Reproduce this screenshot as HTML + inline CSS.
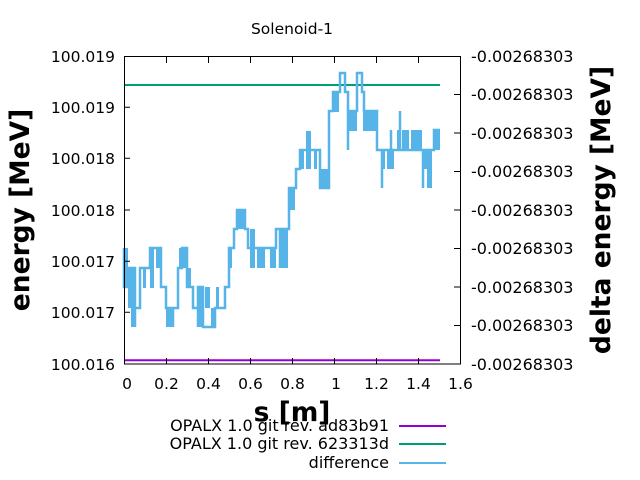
<!DOCTYPE html>
<html><head><meta charset="utf-8"><style>
html,body{margin:0;padding:0;background:#fff;}
svg{display:block;font-family:"DejaVu Sans","Liberation Sans",sans-serif;}
</style></head><body>
<svg width="640" height="480" viewBox="0 0 640 480">
<text x="292" y="34" font-size="15.5" text-anchor="middle">Solenoid-1</text>
<line x1="124" y1="360.3" x2="440" y2="360.3" stroke="#9400d3" stroke-width="2"/>
<line x1="124" y1="85" x2="440" y2="85" stroke="#009e73" stroke-width="2"/>
<g fill="#56b4e9">
<rect x="124" y="248" width="4" height="39"/>
<rect x="128" y="268" width="7" height="40"/>
<rect x="131" y="287" width="5" height="40"/>
<rect x="143" y="268" width="3" height="20"/>
<rect x="150" y="248" width="4" height="40"/>
<rect x="156" y="248" width="5" height="20"/>
<rect x="166" y="308" width="7" height="19"/>
<rect x="179" y="248" width="7" height="20"/>
<rect x="188" y="268" width="3" height="20"/>
<rect x="197" y="287" width="5" height="40"/>
<rect x="205" y="287" width="5" height="21"/>
<rect x="211" y="308" width="4" height="19"/>
<rect x="216" y="287" width="3" height="21"/>
<rect x="228" y="248" width="4" height="20"/>
<rect x="238" y="210" width="7" height="19"/>
<rect x="250" y="229" width="5" height="39"/>
<rect x="257" y="248" width="8" height="20"/>
<rect x="270" y="248" width="6" height="20"/>
<rect x="281" y="229" width="7" height="39"/>
<rect x="290" y="188" width="5" height="22"/>
<rect x="300" y="150" width="4" height="19"/>
<rect x="306" y="131" width="5" height="38"/>
<rect x="314" y="150" width="3" height="19"/>
<rect x="319" y="169" width="10" height="19"/>
<rect x="333" y="92" width="6" height="20"/>
<rect x="349" y="111" width="8" height="20"/>
<rect x="363" y="111" width="14" height="20"/>
<rect x="382" y="150" width="3" height="19"/>
<rect x="387" y="150" width="7" height="19"/>
<rect x="397" y="130" width="4" height="20"/>
<rect x="402" y="130" width="7" height="20"/>
<rect x="411" y="130" width="11" height="20"/>
<rect x="423" y="150" width="6" height="19"/>
<rect x="427" y="150" width="5" height="38"/>
<rect x="434" y="130" width="6" height="20"/>
</g>
<path fill="none" stroke="#56b4e9" stroke-width="2.5" d="M124,248 V287 H128 V268 H135 V327 V308 H140 V268 H150 V248 H161 V287 H166 V308 H173 V327 V308 H178 V268 H182 V248 H187 V287 H193 V308 H198 V327 V287 H203 V327 H209 V327 H215 V308 H225 V287 H229 V248 H234 V229 H237 V210 H245 V229 H248 V248 H276 V229 H280 V268 V229 H289 V188 H296 V169 H300 V150 H320 V169 V188 H329 V150 V111 H333 V92 H340 V73 H345 V92 H348 V150 V111 H357 V92 V73 H362 V92 H364 V111 H377 V130 V150 H382 V169 V188 V150 H391 V130 V150 H400 V111 V150 H407 V130 V150 H423 V169 V188 V150 H434 V130 H440"/>
<rect x="124.5" y="56.5" width="336" height="307.5" fill="none" stroke="#000" stroke-width="1"/>
<g stroke="#000" stroke-width="1">
<path d="M124,107.3h6M124,158.3h6M124,210h6M124,261.3h6M124,312.3h6"/>
<path d="M460,94.5h-6M460,133h-6M460,171.5h-6M460,210h-6M460,248.5h-6M460,287h-6M460,325.5h-6"/>
<path d="M166.5,364v-6M208.5,364v-6M250.5,364v-6M292.5,364v-6M334.5,364v-6M376.5,364v-6M418.5,364v-6"/>
<path d="M166.5,57v6M208.5,57v6M250.5,57v6M292.5,57v6M334.5,57v6M376.5,57v6M418.5,57v6"/>
</g>
<g font-size="15.5" text-anchor="end">
<text x="115" y="62">100.019</text>
<text x="115" y="113">100.019</text>
<text x="115" y="164">100.018</text>
<text x="115" y="216">100.018</text>
<text x="115" y="267">100.017</text>
<text x="115" y="318">100.017</text>
<text x="115" y="370">100.016</text>
</g>
<g font-size="16" text-anchor="start">
<text x="471" y="62">-0.00268303</text>
<text x="471" y="100">-0.00268303</text>
<text x="471" y="139">-0.00268303</text>
<text x="471" y="177">-0.00268303</text>
<text x="471" y="216">-0.00268303</text>
<text x="471" y="254">-0.00268303</text>
<text x="471" y="293">-0.00268303</text>
<text x="471" y="331">-0.00268303</text>
<text x="471" y="370">-0.00268303</text>
</g>
<g font-size="15.5" text-anchor="middle">
<text x="127" y="389">0</text>
<text x="166.5" y="389">0.2</text>
<text x="208.5" y="389">0.4</text>
<text x="250.5" y="389">0.6</text>
<text x="292.5" y="389">0.8</text>
<text x="336" y="389">1</text>
<text x="376.5" y="389">1.2</text>
<text x="418.5" y="389">1.4</text>
<text x="460.5" y="389">1.6</text>
</g>
<text x="292" y="421" font-size="26.5" font-weight="bold" text-anchor="middle">s [m]</text>
<text transform="translate(29,210) rotate(-90)" font-size="26.5" font-weight="bold" text-anchor="middle">energy [MeV]</text>
<text transform="translate(610,210) rotate(-90)" font-size="26.5" font-weight="bold" text-anchor="middle">delta energy [MeV]</text>
<g font-size="16" text-anchor="end">
<text x="389" y="431">OPALX 1.0 git rev. ad83b91</text>
<text x="389" y="449">OPALX 1.0 git rev. 623313d</text>
<text x="389" y="468">difference</text>
</g>
<line x1="399" y1="426" x2="446" y2="426" stroke="#9400d3" stroke-width="2"/>
<line x1="399" y1="444" x2="446" y2="444" stroke="#009e73" stroke-width="2"/>
<line x1="399" y1="463" x2="446" y2="463" stroke="#56b4e9" stroke-width="2"/>
</svg>
</body></html>
